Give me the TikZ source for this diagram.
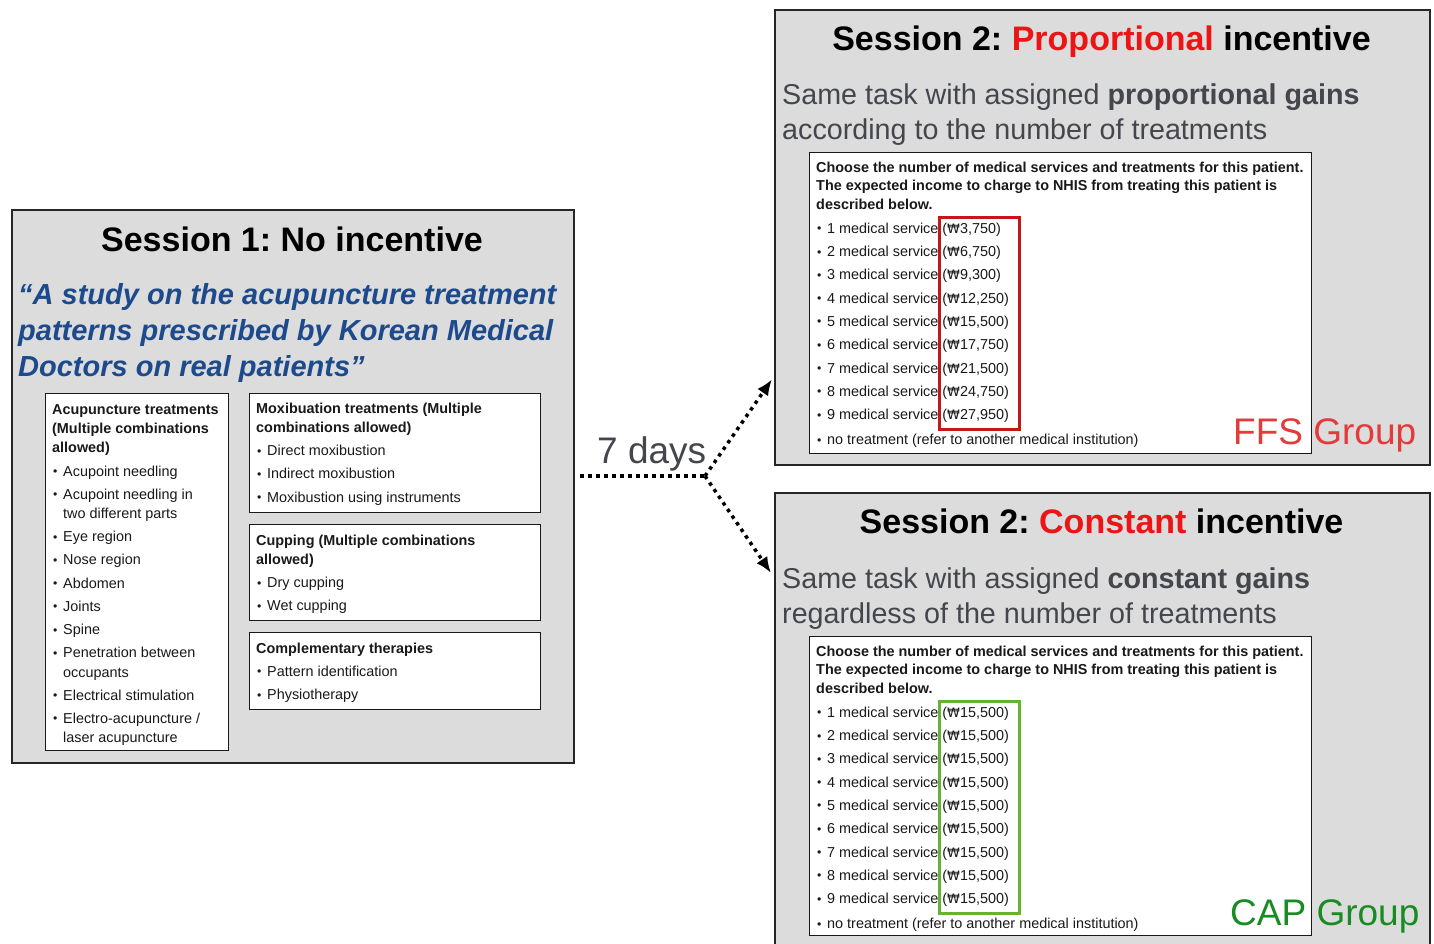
\documentclass[tikz,border=0pt]{standalone}
\usepackage{fontspec}
\usepackage{graphicx}
\setmainfont{Liberation Sans}
\newfontfamily\wonf{DejaVu Sans}[Scale=0.9]
\usetikzlibrary{arrows.meta}
\definecolor{panel}{RGB}{220,220,220}
\definecolor{quoteblue}{RGB}{28,74,140}
\definecolor{greytext}{RGB}{68,70,76}
\definecolor{titlered}{RGB}{236,20,20}
\definecolor{rectred}{RGB}{200,22,22}
\definecolor{ffsred}{RGB}{228,58,58}
\definecolor{rectgreen}{RGB}{100,180,50}
\definecolor{capgreen}{RGB}{24,140,34}
\newcommand\bul{\makebox[11pt][l]{\hspace{0.8pt}\raisebox{0.5pt}{\scalebox{0.85}{•}}}}
\newcommand\ind{\hspace*{11pt}}
\newcommand\won{{\wonf ₩}}
\newcommand\fst{\rule{0pt}{12pt}}
\frenchspacing
\begin{document}
\begin{tikzpicture}[x=1pt,y=-1pt,
  panelbox/.style={draw=black!85, line width=2.3pt, fill=panel, anchor=north west, inner sep=0pt},
  subbox/.style={draw=black!90, line width=1.3pt, fill=white, anchor=north west, inner sep=0pt},
  hlbox/.style={line width=3pt, anchor=north west, inner sep=0pt},
  smalltxt/.style={anchor=north west, inner sep=0pt, align=left, font=\fontsize{14.4}{19.3}\selectfont, text=black!90},
  formtxt/.style={anchor=north west, inner sep=0pt, align=left, font=\fontsize{14.4}{18.5}\selectfont, text=black!90},
  titletxt/.style={anchor=base, inner sep=0pt, font=\fontsize{34}{40}\selectfont\bfseries},
  quotetxt/.style={anchor=base west, inner sep=0pt, font=\fontsize{29}{36}\selectfont\bfseries\itshape, text=quoteblue},
  desctxt/.style={anchor=base west, inner sep=0pt, font=\fontsize{28.7}{35}\selectfont, text=greytext},
  grouptxt/.style={anchor=base west, inner sep=0pt, font=\fontsize{37}{40}\selectfont},
  dotline/.style={line width=3.5pt, dash pattern=on 3.5pt off 4.5pt, black},
  tip/.style={-{Latex[length=16pt,width=13pt]}}
]
\useasboundingbox (0,0) rectangle (1434,943);
\clip (0,0) rectangle (1434,943);

% ---------------- Session 1 ----------------
\node[panelbox, minimum width=562pt, minimum height=553pt] (s1) at (11,209) {};
\node[titletxt] (s1t) at (292,251) {Session 1: No incentive};
\node[quotetxt] (q1) at (18,304) {“A study on the acupuncture treatment};
\node[quotetxt] (q2) at (18,340) {patterns prescribed by Korean Medical};
\node[quotetxt] (q3) at (18,376) {Doctors on real patients”};

\node[subbox, minimum width=183pt, minimum height=357pt] (ba) at (45,393) {};
\node[subbox, minimum width=291pt, minimum height=119pt] (bb) at (249,393) {};
\node[subbox, minimum width=291pt, minimum height=96pt] (bc) at (249,524) {};
\node[subbox, minimum width=291pt, minimum height=77pt] (bd) at (249,632) {};

\node[smalltxt] (ta) at (52,402) {\fst\textbf{Acupuncture treatments}\\
\textbf{(Multiple combinations}\\
\textbf{allowed)}\\[3.9pt]
\bul Acupoint needling\\[3.9pt]
\bul Acupoint needling in\\
\ind two different parts\\[3.9pt]
\bul Eye region\\[3.9pt]
\bul Nose region\\[3.9pt]
\bul Abdomen\\[3.9pt]
\bul Joints\\[3.9pt]
\bul Spine\\[3.9pt]
\bul Penetration between\\
\ind occupants\\[3.9pt]
\bul Electrical stimulation\\[3.9pt]
\bul Electro-acupuncture /\\
\ind laser acupuncture};

\node[smalltxt] (tb) at (256,401) {\fst\textbf{Moxibuation treatments (Multiple}\\
\textbf{combinations allowed)}\\[3.9pt]
\bul Direct moxibustion\\[3.9pt]
\bul Indirect moxibustion\\[3.9pt]
\bul Moxibustion using instruments};

\node[smalltxt] (tc) at (256,533) {\fst\textbf{Cupping (Multiple combinations}\\
\textbf{allowed)}\\[3.9pt]
\bul Dry cupping\\[3.9pt]
\bul Wet cupping};

\node[smalltxt] (td) at (256,641) {\fst\textbf{Complementary therapies}\\[3.9pt]
\bul Pattern identification\\[3.9pt]
\bul Physiotherapy};

% ---------------- Session 2: proportional ----------------
\node[panelbox, minimum width=655pt, minimum height=455pt] (p) at (774,9) {};
\node[titletxt] (pt) at (1101.5,50) {Session 2: \textcolor{titlered}{Proportional} incentive};
\node[desctxt] (pd1) at (782,104) {Same task with assigned \textbf{proportional gains}};
\node[desctxt] (pd2) at (782,139) {according to the number of treatments};
\node[subbox, minimum width=502pt, minimum height=301pt] (pi) at (809,152) {};
\node[formtxt] (pf) at (816,160) {\fst\textbf{Choose the number of medical services and treatments for this patient.}\\
\textbf{The expected income to charge to NHIS from treating this patient is}\\
\textbf{described below.}\\[5.5pt]
\bul 1 medical service (\won3,750)\\[4.8pt]
\bul 2 medical service (\won6,750)\\[4.8pt]
\bul 3 medical service (\won9,300)\\[4.8pt]
\bul 4 medical service (\won12,250)\\[4.8pt]
\bul 5 medical service (\won15,500)\\[4.8pt]
\bul 6 medical service (\won17,750)\\[4.8pt]
\bul 7 medical service (\won21,500)\\[4.8pt]
\bul 8 medical service (\won24,750)\\[4.8pt]
\bul 9 medical service (\won27,950)\\[6.5pt]
\bul no treatment (refer to another medical institution)};
\node[hlbox, draw=rectred, minimum width=80pt, minimum height=212pt] (pr) at (938,216) {};
\node[grouptxt, text=ffsred] (pg) at (1233,444) {FFS Group};

% ---------------- Session 2: constant ----------------
\node[panelbox, minimum width=655pt, minimum height=470pt] (q) at (774,492) {};
\node[titletxt] (qt) at (1101.5,533) {Session 2: \textcolor{titlered}{Constant} incentive};
\node[desctxt] (qd1) at (782,588) {Same task with assigned \textbf{constant gains}};
\node[desctxt] (qd2) at (782,623) {regardless of the number of treatments};
\node[subbox, minimum width=502pt, minimum height=299pt] (qi) at (809,636) {};
\node[formtxt] (qf) at (816,644) {\fst\textbf{Choose the number of medical services and treatments for this patient.}\\
\textbf{The expected income to charge to NHIS from treating this patient is}\\
\textbf{described below.}\\[5.5pt]
\bul 1 medical service (\won15,500)\\[4.8pt]
\bul 2 medical service (\won15,500)\\[4.8pt]
\bul 3 medical service (\won15,500)\\[4.8pt]
\bul 4 medical service (\won15,500)\\[4.8pt]
\bul 5 medical service (\won15,500)\\[4.8pt]
\bul 6 medical service (\won15,500)\\[4.8pt]
\bul 7 medical service (\won15,500)\\[4.8pt]
\bul 8 medical service (\won15,500)\\[4.8pt]
\bul 9 medical service (\won15,500)\\[6.5pt]
\bul no treatment (refer to another medical institution)};
\node[hlbox, draw=rectgreen, minimum width=80pt, minimum height=212pt] (qr) at (938,700) {};
\node[grouptxt, text=capgreen] (qg) at (1230,925) {CAP Group};

% ---------------- connectors ----------------
\node[grouptxt, text=greytext] (days) at (597,463) {7 days};
\coordinate (j) at (705,476);
\draw[dotline, shorten <=5pt] (s1.east |- j) -- (j);
\draw[dotline, tip] (j) -- ([yshift=87pt,xshift=-2pt]p.south west);
\draw[dotline, tip] (j) -- ([yshift=-81pt,xshift=-3pt]q.north west);
\end{tikzpicture}
\end{document}
